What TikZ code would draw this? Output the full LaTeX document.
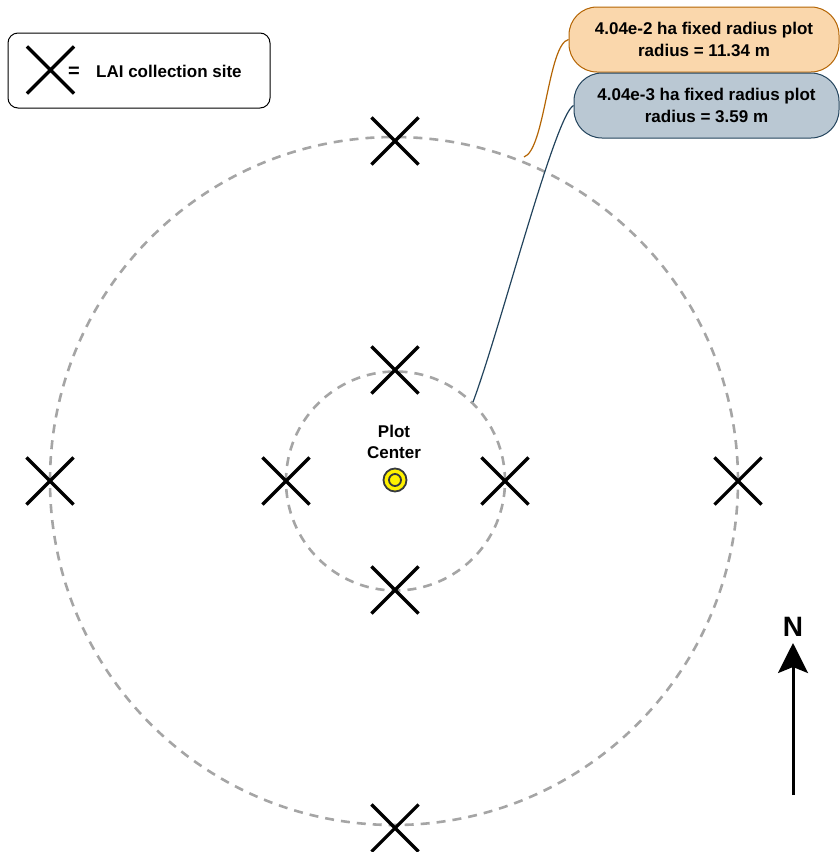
\documentclass[tikz,border=0pt]{standalone}
\usepackage{fontspec}
\setmainfont{Liberation Sans}
\usetikzlibrary{shapes.misc,arrows.meta}
\definecolor{ringgray}{RGB}{165,165,165}
\definecolor{orfill}{HTML}{FAD7AC}
\definecolor{orline}{HTML}{B46504}
\definecolor{blfill}{HTML}{BAC8D3}
\definecolor{blline}{HTML}{23445D}
\definecolor{pcline}{HTML}{36393D}
\begin{document}
\begin{tikzpicture}[x=1pt,y=-1pt,
  site/.style={cross out,draw=black,line width=3.2pt,minimum size=44pt,inner sep=0pt},
  ring/.style={draw=ringgray,line width=2.6pt,dash pattern=on 9pt off 7pt},
  txt/.style={font=\fontsize{17}{21.5}\selectfont\bfseries,align=center,inner sep=0pt},
  callout/.style={txt,line width=1pt,rounded corners=28pt,minimum height=65pt}]
\useasboundingbox (0,0) rectangle (840,852);
% rings
\draw[ring] (394,481) circle[radius=344pt];
\draw[ring] (395.5,481) circle[radius=109.5pt];
% LAI sites
\node[site] (s1) at (395,141) {};
\node[site] (s2) at (50,481) {};
\node[site] (s3) at (738,481) {};
\node[site] (s4) at (395,828) {};
\node[site] (s5) at (395,370) {};
\node[site] (s6) at (286,481) {};
\node[site] (s7) at (505,481) {};
\node[site] (s8) at (395,590) {};
% plot center
\node[circle,draw=pcline,fill=yellow,line width=1.8pt,minimum size=23pt,inner sep=0pt] (pc) at (395,480) {};
\node[circle,draw=pcline,fill=yellow,line width=1.8pt,minimum size=12pt,inner sep=0pt] (pci) at (395,480) {};
\node[txt] (pct) at (394,442) {Plot\\Center};
% legend
\node[draw=black,line width=1pt,rounded corners=10pt,minimum width=262pt,minimum height=75pt,inner sep=0pt] (leg) at (139,70.5) {};
\node[site] (legx) at (50.5,70) {};
\node[font=\fontsize{20}{22}\selectfont\bfseries,inner sep=0pt] (legeq) at (74,72) {=};
\node[txt,anchor=west] (legt) at (96,71) {LAI collection site};
% connectors
\coordinate (oe) at (524,157);
\coordinate (be) at (473,402);
\node[callout,draw=orline,fill=orfill,minimum width=270pt] (ob) at (704,39.5) {4.04e-2 ha fixed radius plot\\radius = 11.34 m};
\node[callout,draw=blline,fill=blfill,minimum width=265pt] (bb) at (706.5,105.5) {4.04e-3 ha fixed radius plot\\radius = 3.59 m};
\draw[orline,line width=1.2pt] (ob.west) .. controls (548,44) and (545,150) .. (oe);
\draw[blline,line width=1.2pt] (bb.west) .. controls (555,115) and (500,330) .. (be);
% north arrow
\coordinate (nb) at (793,795);
\coordinate (nt) at (793,643);
\draw[line width=3pt,-{Stealth[length=30pt,width=30pt,inset=6pt]}] (nb) -- (nt);
\node[font=\fontsize{28}{30}\selectfont\bfseries,inner sep=0pt] (nn) at (793,627) {N};
\end{tikzpicture}
\end{document}
